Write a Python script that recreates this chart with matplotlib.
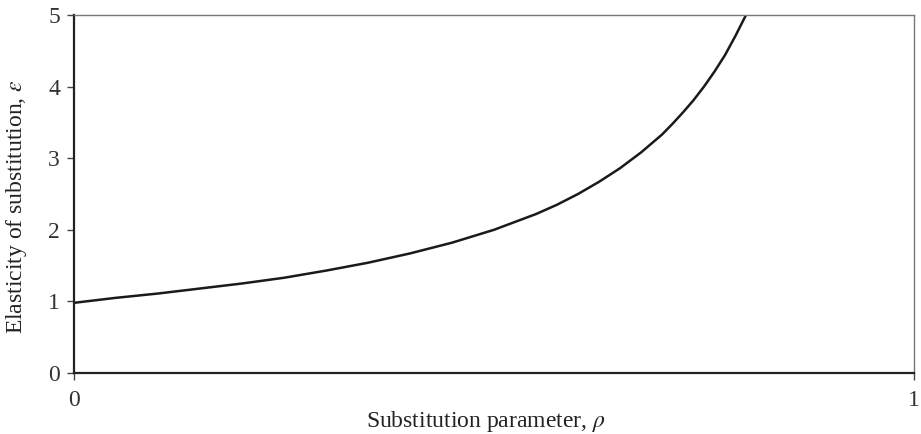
import matplotlib
matplotlib.use("Agg")
import matplotlib.pyplot as plt

# === DATA ===
rho = [0.0, 0.05, 0.1, 0.15, 0.2, 0.25, 0.3, 0.35, 0.4, 0.45, 0.5,
       0.525, 0.55, 0.575, 0.6, 0.625, 0.65, 0.675, 0.7, 0.7125, 0.725,
       0.7375, 0.75, 0.7625, 0.775, 0.7875, 0.8]
elasticity = [0.98, 1.05, 1.11, 1.18, 1.25, 1.33, 1.43, 1.54, 1.67, 1.82, 2.0,
              2.11, 2.22, 2.35, 2.5, 2.67, 2.86, 3.08, 3.33, 3.48, 3.64,
              3.81, 4.0, 4.21, 4.44, 4.71, 5.0]
x_ticks = [0, 1]
y_ticks = [0, 1, 2, 3, 4, 5]

# === STYLE ===
plt.rcParams["font.family"] = ["Liberation Serif", "DejaVu Serif"]
plt.rcParams["mathtext.fontset"] = "stix"
plt.rcParams["font.size"] = 17

fig = plt.figure(figsize=(9.21, 4.34), dpi=100)
ax = fig.add_axes([74 / 921, 1 - 373 / 434, (914 - 74) / 921, (373 - 15) / 434])

ax.plot(rho, elasticity, color="#1a1a1a", lw=1.8, solid_joinstyle="round")

ax.set_xlim(0, 1)
ax.set_ylim(0, 5)
ax.set_xticks(x_ticks)
ax.set_xticklabels([str(t) for t in x_ticks])
ax.set_yticks(y_ticks)

for s in ["left", "bottom"]:
    ax.spines[s].set_color("#222222")
    ax.spines[s].set_linewidth(1.6)
for s in ["top", "right"]:
    ax.spines[s].set_color("#777777")
    ax.spines[s].set_linewidth(1.0)

ax.tick_params(axis="both", direction="out", length=5, width=1.0, color="#444444",
               labelcolor="#333333")
ax.tick_params(axis="y", pad=5)
ax.tick_params(axis="x", pad=7)

ax.set_xlabel(r"Substitution parameter, $\rho$", color="#222222")
ax.xaxis.set_label_coords(0.49, -0.1)
ax.set_ylabel(r"Elasticity of substitution, $\varepsilon$", color="#222222")
ax.yaxis.set_label_coords(-0.054, 0.465)

fig.savefig("out.png", dpi=100)
